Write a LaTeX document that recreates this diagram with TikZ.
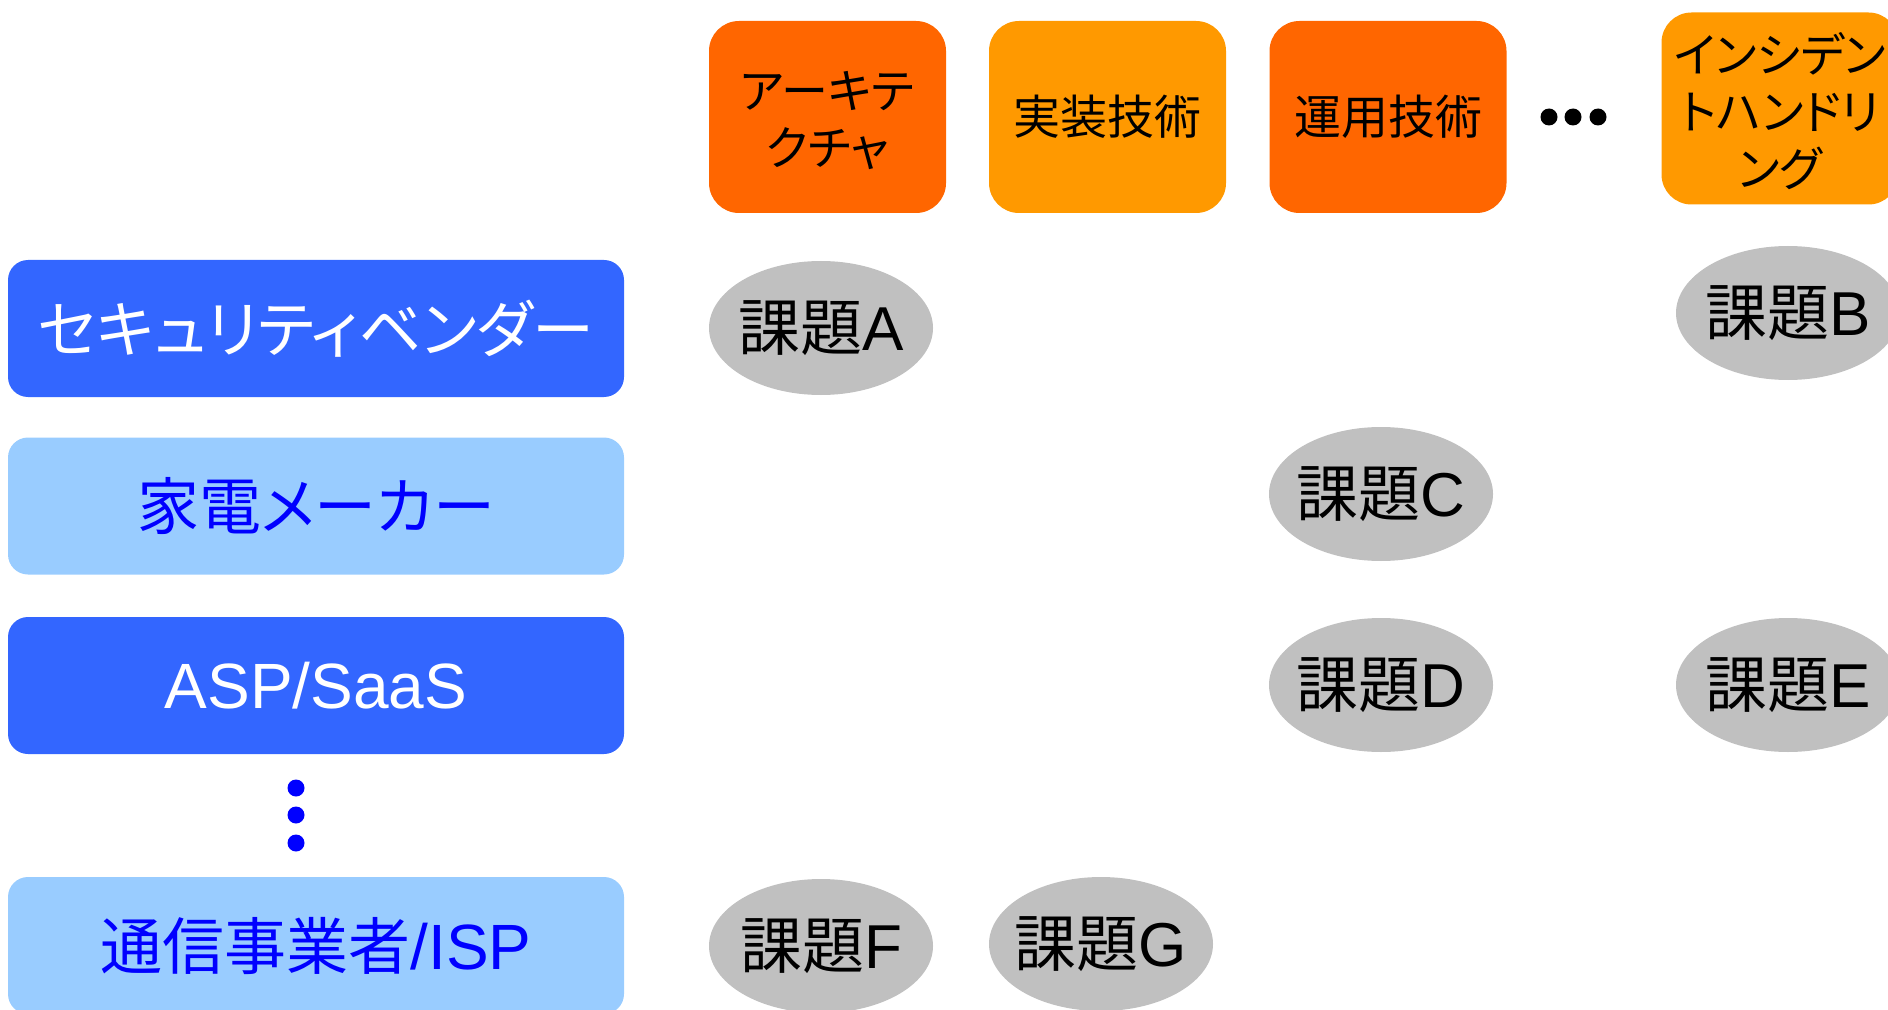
\documentclass[tikz,border=0pt]{standalone}
\usepackage{fontspec}
\setmainfont{Liberation Sans}
\newfontfamily\cjk[RawFeature=+palt]{Noto Sans CJK JP}
\usetikzlibrary{shapes.geometric}
\definecolor{dorange}{HTML}{FF6600}
\definecolor{lorange}{HTML}{FF9900}
\definecolor{dblue}{HTML}{3366FF}
\definecolor{lblue}{HTML}{99CCFF}
\definecolor{tblue}{HTML}{0000FF}
\definecolor{issuegray}{HTML}{C0C0C0}
\newcommand{\jp}[1]{{\fontsize{31pt}{36pt}\selectfont\cjk #1}}
\newcommand{\fixw}[1]{\makebox[0pt][c]{#1}}
\tikzset{
  rowbox/.style={rounded corners=10pt, minimum width=308pt, minimum height=68.5pt, inner sep=0pt,
    font=\fontsize{32pt}{36pt}\selectfont},
  rowdark/.style={rowbox, fill=dblue, text=white},
  rowlight/.style={rowbox, fill=lblue, text=tblue},
  colbox/.style={rounded corners=15pt, minimum width=118.5pt, minimum height=96pt, inner sep=0pt,
    align=center, font=\fontsize{23.5pt}{28.5pt}\selectfont\cjk, text=black},
  coldark/.style={colbox, fill=dorange},
  collight/.style={colbox, fill=lorange},
  coltext/.style={inner sep=0pt, align=center, font=\fontsize{23.5pt}{28.5pt}\selectfont\cjk, text=black},
  issue/.style={ellipse, fill=issuegray, minimum width=112pt, minimum height=67pt, inner sep=0pt,
    font=\fontsize{31pt}{36pt}\selectfont, text=black},
  vdot/.style={circle, fill=tblue, minimum size=8.5pt, inner sep=0pt},
  hdot/.style={circle, fill=black, minimum size=8.5pt, inner sep=0pt}
}
\begin{document}
\begin{tikzpicture}[x=0.5pt, y=-0.5pt]
\useasboundingbox (0,0) rectangle (1888,1010);
\clip (0,0) rectangle (1888,1010);
% column headers
\node[coldark]  (arch) at (827.5,117) {};
\node[coltext]  (archt) at ([yshift=-1.8pt]arch.center) {アーキテ\\クチャ};
\node[collight] (impl) at (1107.5,117) {実装技術};
\node[coldark]  (ops)  at (1388,117) {運用技術};
\node[collight] (inc)  at (1780,108.5) {};
\node[coltext]  (inct) at ([yshift=-1.5pt]inc.center) {インシデン\\トハンドリ\\ング};
\node[hdot] (h1) at (1549,117) {};
\node[hdot] (h2) at (1573,117) {};
\node[hdot] (h3) at (1598,117) {};
% rows
\node[rowdark]  (sec)  at (316,328.5) {\jp{セキュリティベンダー}};
\node[rowlight] (home) at (316,506) {\jp{家電メーカー}};
\node[rowdark]  (asp)  at (316,685.5) {ASP/SaaS};
\node[rowlight] (isp)  at (316,945.5) {\jp{通信事業者}/ISP};
\node[vdot] (v1) at (296,788) {};
\node[vdot] (v2) at (296,815) {};
\node[vdot] (v3) at (296,843) {};
% issues
\node[issue] (ia) at (821,328) {\fixw{\jp{課題}A}};
\node[issue] (ib) at (1788,313) {\fixw{\jp{課題}B}};
\node[issue] (ic) at (1381,494) {\fixw{\jp{課題}C}};
\node[issue] (id) at (1381,685) {\fixw{\jp{課題}D}};
\node[issue] (ie) at (1788,685) {\fixw{\jp{課題}E}};
\node[issue] (if) at (821,946) {\fixw{\jp{課題}F}};
\node[issue] (ig) at (1101,944) {\fixw{\jp{課題}G}};
\end{tikzpicture}
\end{document}
